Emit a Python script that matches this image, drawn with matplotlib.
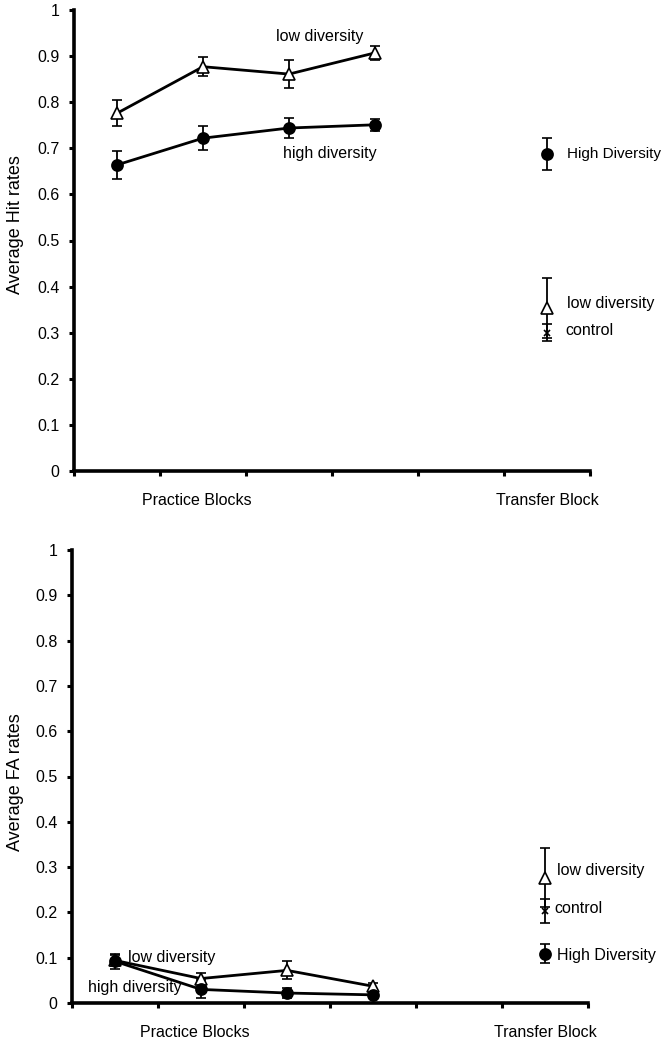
import matplotlib
matplotlib.use("Agg")
import matplotlib.pyplot as plt
import numpy as np

plt.rcParams['font.family'] = ['Liberation Sans', 'DejaVu Sans']

# ---- data ----
practice_x = [0.5, 1.5, 2.5, 3.5]
transfer_x = 5.5

hit_low = [0.776, 0.877, 0.861, 0.907]
hit_low_err = [0.028, 0.020, 0.030, 0.015]
hit_high = [0.664, 0.722, 0.744, 0.751]
hit_high_err = [0.031, 0.026, 0.022, 0.013]
hit_tr_high, hit_tr_high_err = 0.688, 0.034
hit_tr_low, hit_tr_low_err = 0.354, 0.065
hit_tr_ctrl, hit_tr_ctrl_err = 0.300, 0.018

fa_low = [0.094, 0.054, 0.072, 0.037]
fa_low_err = [0.012, 0.012, 0.020, 0.008]
fa_high = [0.092, 0.030, 0.022, 0.018]
fa_high_err = [0.016, 0.020, 0.012, 0.005]
fa_tr_low, fa_tr_low_err = 0.277, 0.065
fa_tr_ctrl, fa_tr_ctrl_err = 0.203, 0.027
fa_tr_high, fa_tr_high_err = 0.109, 0.021

yticks = [0, 0.1, 0.2, 0.3, 0.4, 0.5, 0.6, 0.7, 0.8, 0.9, 1]
ytick_labels = ['0', '0.1', '0.2', '0.3', '0.4', '0.5', '0.6', '0.7', '0.8', '0.9', '1']
cat_labels = ['Practice Blocks', 'Transfer Block']
cat_pos = [1.43, 5.5]

FS = 11.5

fig = plt.figure(figsize=(6.67, 10.4), dpi=100)
ax1 = fig.add_axes([74/667, 1-471/1040, (590-74)/667, 461/1040])
ax2 = fig.add_axes([72/667, 1-1003/1040, (588-72)/667, 453/1040])


def style(ax):
    ax.set_xlim(0, 6)
    ax.set_ylim(0, 1)
    for s in ['top', 'right']:
        ax.spines[s].set_visible(False)
    for s in ['left', 'bottom']:
        ax.spines[s].set_linewidth(2.6)
    ax.set_yticks(yticks)
    ax.set_yticklabels(ytick_labels, fontsize=FS)
    ax.set_xticks(range(7))
    ax.set_xticklabels([''] * 7)
    ax.tick_params(axis='both', direction='out', length=3.5, width=2.2, pad=7)
    for p, lab in zip(cat_pos, cat_labels):
        ax.text(p, -0.065, lab, ha='center', va='center', fontsize=FS,
                transform=ax.transData, clip_on=False)


def series(ax, x, y, e, marker, fc):
    ax.errorbar(x, y, yerr=e, color='black', lw=2.0, elinewidth=1.3,
                capsize=3.5, capthick=1.3, marker=marker, markersize=8 if marker == 'o' else 8.5,
                markerfacecolor=fc, markeredgecolor='black', markeredgewidth=1.2, zorder=3)


def single(ax, x, y, e, marker, fc, ms=8):
    ax.errorbar([x], [y], yerr=[e], color='black', lw=0, elinewidth=1.3,
                capsize=3.5, capthick=1.3, marker=marker, markersize=ms,
                markerfacecolor=fc, markeredgecolor='black', markeredgewidth=1.2, zorder=3)


# top panel
style(ax1)
series(ax1, practice_x, hit_low, hit_low_err, '^', 'white')
series(ax1, practice_x, hit_high, hit_high_err, 'o', 'black')
single(ax1, transfer_x, hit_tr_high, hit_tr_high_err, 'o', 'black')
single(ax1, transfer_x, hit_tr_low, hit_tr_low_err, '^', 'white', 8.5)
single(ax1, transfer_x, hit_tr_ctrl, hit_tr_ctrl_err, 'x', 'black', 5)
ax1.text(2.86, 0.943, 'low diversity', ha='center', va='center', fontsize=FS)
ax1.text(2.98, 0.688, 'high diversity', ha='center', va='center', fontsize=FS)
ax1.text(5.73, 0.688, 'High Diversity', ha='left', va='center', fontsize=11, clip_on=False)
ax1.text(5.73, 0.364, 'low diversity', ha='left', va='center', fontsize=FS, clip_on=False)
ax1.text(5.71, 0.304, 'control', ha='left', va='center', fontsize=FS, clip_on=False)

# bottom panel
style(ax2)
series(ax2, practice_x, fa_low, fa_low_err, '^', 'white')
series(ax2, practice_x, fa_high, fa_high_err, 'o', 'black')
single(ax2, transfer_x, fa_tr_low, fa_tr_low_err, '^', 'white', 8.5)
single(ax2, transfer_x, fa_tr_ctrl, fa_tr_ctrl_err, 'x', 'black', 5)
single(ax2, transfer_x, fa_tr_high, fa_tr_high_err, 'o', 'black')
ax2.text(0.65, 0.101, 'low diversity', ha='left', va='center', fontsize=FS)
ax2.text(0.185, 0.035, 'high diversity', ha='left', va='center', fontsize=FS)
ax2.text(5.64, 0.293, 'low diversity', ha='left', va='center', fontsize=FS, clip_on=False)
ax2.text(5.61, 0.209, 'control', ha='left', va='center', fontsize=FS, clip_on=False)
ax2.text(5.64, 0.105, 'High Diversity', ha='left', va='center', fontsize=FS, clip_on=False)

fig.text(15/667, 1-225/1040, 'Average Hit rates', rotation=90, ha='center', va='center', fontsize=13)
fig.text(15/667, 1-782/1040, 'Average FA rates', rotation=90, ha='center', va='center', fontsize=13)

fig.savefig('out.png', dpi=100)
